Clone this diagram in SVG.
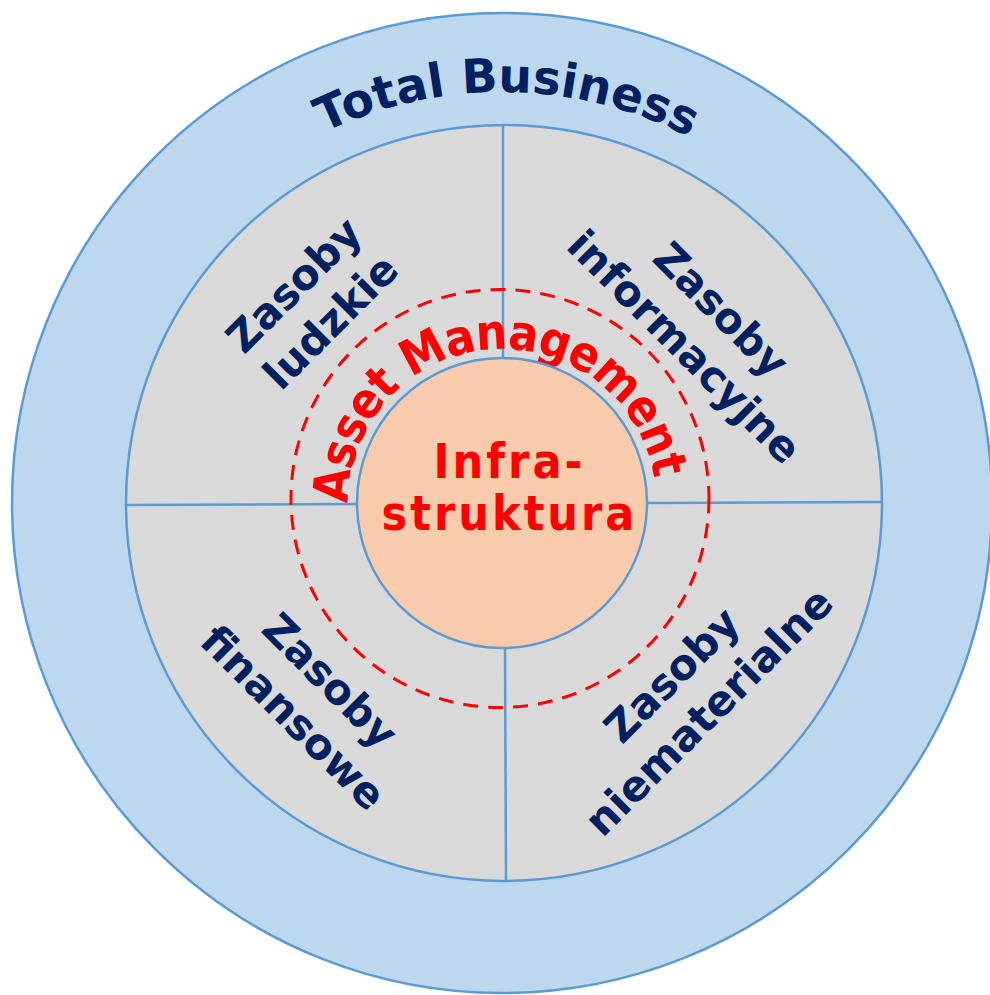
<svg xmlns="http://www.w3.org/2000/svg" width="990" height="995" viewBox="0 0 990 995">
<style>
.ring{stroke:#5B9BD5;stroke-width:2.5}
.sep{stroke:#5B9BD5;stroke-width:2.5;fill:none}
.q{font-family:"DejaVu Sans",sans-serif;font-weight:bold;font-size:42px;fill:#002060;text-anchor:middle}
.tb{font-family:"DejaVu Sans",sans-serif;font-weight:bold;font-size:47px;fill:#002060;text-anchor:middle}
.am{font-family:"DejaVu Sans Condensed","DejaVu Sans",sans-serif;font-stretch:condensed;font-weight:bold;font-size:49px;letter-spacing:-1.2px;fill:#FF0000;text-anchor:middle}
.inf{font-family:"DejaVu Sans Condensed","DejaVu Sans",sans-serif;font-stretch:condensed;font-weight:bold;font-size:48px;letter-spacing:3px;fill:#FF0000;text-anchor:middle}
</style>
<defs>
<path id="tbArc" d="M 91 503 A 411 411 0 0 1 913 503"/>
<path id="amArc" d="M 348 503 A 154 154 0 0 1 656 503"/>
</defs>
<g id="total-business">
<circle class="ring" cx="502" cy="503" r="490" fill="#BDD7EE"/>
<text class="tb"><textPath href="#tbArc" startOffset="50.4%">Total Business</textPath></text>
</g>
<g id="resources">
<circle class="ring" cx="504" cy="503" r="378" fill="#D9D9D9"/>
</g>
<g id="connectors">
<line class="sep" x1="503" y1="125" x2="503" y2="358"/>
<line class="sep" x1="126" y1="505" x2="357" y2="504"/>
<line class="sep" x1="647" y1="503" x2="882" y2="502"/>
<line class="sep" x1="505" y1="648" x2="506" y2="881"/>
</g>
<g id="asset-management">
<circle cx="500" cy="498.5" r="209" fill="none" stroke="#FF0000" stroke-width="3" stroke-dasharray="15 10"/>
<text class="am"><textPath href="#amArc" startOffset="47.3%">Asset Management</textPath></text>
</g>
<g id="zasoby-ludzkie" transform="translate(312,303) rotate(-45)">
<text class="q"><tspan x="0" y="-11">Zasoby</tspan><tspan x="0" y="41">ludzkie</tspan></text>
</g>
<g id="zasoby-informacyjne" transform="translate(703,328) rotate(45)">
<text class="q"><tspan x="0" y="-11">Zasoby</tspan><tspan x="0" y="41">informacyjne</tspan></text>
</g>
<g id="zasoby-finansowe" transform="translate(312,699) rotate(45)">
<text class="q"><tspan x="0" y="-11">Zasoby</tspan><tspan x="0" y="41">finansowe</tspan></text>
</g>
<g id="zasoby-niematerialne" transform="translate(690,693) rotate(-45)">
<text class="q"><tspan x="0" y="-11">Zasoby</tspan><tspan x="0" y="41">niematerialne</tspan></text>
</g>
<g id="infrastruktura">
<circle class="ring" cx="502" cy="503" r="145" fill="#F8CBAD"/>
<text class="inf"><tspan x="509.5" y="478">Infra-</tspan><tspan x="509.5" y="530">struktura</tspan></text>
</g>
</svg>
